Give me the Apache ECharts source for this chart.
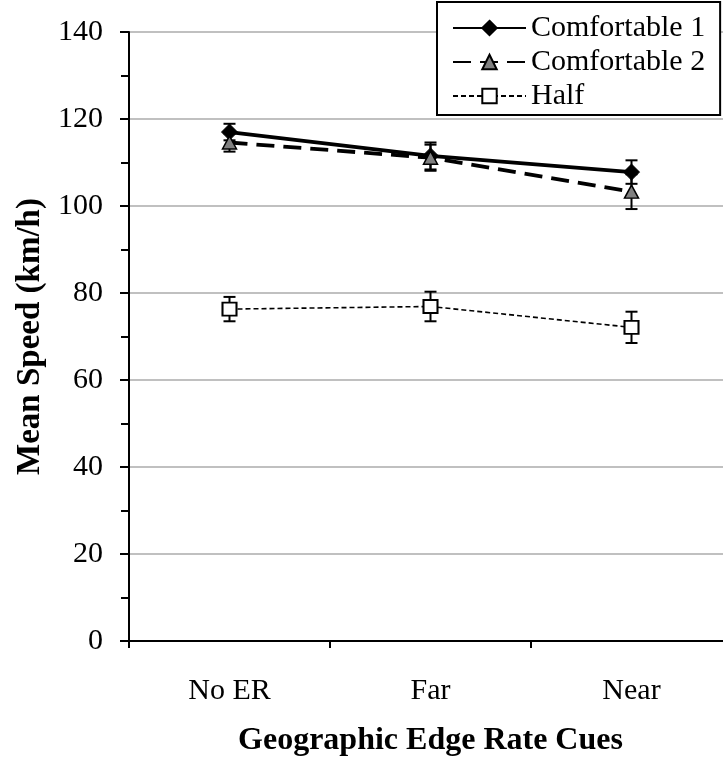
<!DOCTYPE html>
<html>
<head>
<meta charset="utf-8">
<script src="https://cdn.jsdelivr.net/npm/echarts@6/dist/echarts.min.js"></script>
<style>
  html, body { margin: 0; padding: 0; background: #fff; }
  #chart { width: 723px; height: 757px; }
</style>
</head>
<body>
<div id="chart"></div>
<script>
// Edge-rate cue conditions on the x axis
const categories = ['No ER', 'Far', 'Near'];

// Mean speed (km/h) and error-bar half widths per condition
const comfortable1 = [117.0, 111.5, 107.8];
const comfortable1Err = [1.9, 3.1, 2.7];
const comfortable2 = [114.6, 111.1, 103.3];
const comfortable2Err = [2.1, 3.0, 4.0];
const half = [76.3, 76.9, 72.1];
const halfErr = [2.8, 3.4, 3.6];

const yTicks = [0, 20, 40, 60, 80, 100, 120, 140];

const SERIF = '"Liberation Serif", "DejaVu Serif", serif';

function errorData(values, errs) {
  return values.map((v, i) => [i, v - errs[i], v + errs[i]]);
}

function renderErrorBar(params, api) {
  const idx = api.value(0);
  const lo = api.coord([idx, api.value(1)]);
  const hi = api.coord([idx, api.value(2)]);
  const half = 6;
  const style = { stroke: '#000', lineWidth: 2, fill: null };
  return {
    type: 'group',
    children: [
      { type: 'line', shape: { x1: lo[0], y1: lo[1], x2: hi[0], y2: hi[1] }, style },
      { type: 'line', shape: { x1: lo[0] - half, y1: lo[1], x2: lo[0] + half, y2: lo[1] }, style },
      { type: 'line', shape: { x1: hi[0] - half, y1: hi[1], x2: hi[0] + half, y2: hi[1] }, style }
    ]
  };
}

function errorSeries(name, values, errs) {
  return {
    name: name + ' error',
    type: 'custom',
    z: 1,
    silent: true,
    renderItem: renderErrorBar,
    encode: { x: 0, y: [1, 2] },
    data: errorData(values, errs)
  };
}

const chart = echarts.init(document.getElementById('chart'), null, { renderer: 'canvas' });

chart.setOption({
  animation: false,
  backgroundColor: '#fff',
  textStyle: { fontFamily: SERIF, color: '#000' },
  grid: { left: 129, top: 32, bottom: 116, width: 603, containLabel: false, outerBoundsMode: 'none' },
  legend: {
    left: 437,
    top: 2,
    orient: 'vertical',
    backgroundColor: '#fff',
    borderColor: '#000',
    borderWidth: 2,
    borderRadius: 0,
    padding: [11, 15, 4, 15],
    itemWidth: 73,
    itemHeight: 18,
    itemGap: 4,
    textStyle: { fontFamily: SERIF, fontSize: 30, color: '#000' },
    data: ['Comfortable 1', 'Comfortable 2', 'Half']
  },
  xAxis: {
    type: 'category',
    data: categories,
    boundaryGap: true,
    axisLine: { lineStyle: { color: '#000', width: 2 } },
    axisTick: { show: true, length: 7, lineStyle: { color: '#000', width: 2 } },
    axisLabel: { fontFamily: SERIF, fontSize: 30, color: '#000', margin: 35 },
    name: 'Geographic Edge Rate Cues',
    nameLocation: 'middle',
    nameGap: 84,
    nameTextStyle: { fontFamily: SERIF, fontSize: 32, fontWeight: 'bold', color: '#000' },
    splitLine: { show: false }
  },
  yAxis: {
    type: 'value',
    min: 0,
    max: 140,
    interval: 20,
    axisLine: { show: true, lineStyle: { color: '#000', width: 2 } },
    axisTick: { show: true, length: 9, lineStyle: { color: '#000', width: 2 } },
    minorTick: { show: true, splitNumber: 2, length: 8, lineStyle: { color: '#000', width: 2 } },
    axisLabel: {
      fontFamily: SERIF, fontSize: 30, color: '#000', margin: 26,
      formatter: v => (yTicks.indexOf(v) >= 0 ? String(v) : '')
    },
    splitLine: { show: true, lineStyle: { color: '#c0c0c0', width: 2 } },
    name: 'Mean Speed (km/h)',
    nameLocation: 'middle',
    nameGap: 80,
    nameTextStyle: { fontFamily: SERIF, fontSize: 33, fontWeight: 'bold', color: '#000' }
  },
  series: [
    errorSeries('Half', half, halfErr),
    errorSeries('Comfortable 2', comfortable2, comfortable2Err),
    errorSeries('Comfortable 1', comfortable1, comfortable1Err),
    {
      name: 'Half',
      type: 'line',
      z: 3,
      data: half,
      symbol: 'rect',
      symbolSize: [14, 13],
      lineStyle: { color: '#000', width: 1.6, type: [5, 3] },
      itemStyle: { color: '#fff', borderColor: '#000', borderWidth: 2 }
    },
    {
      name: 'Comfortable 1',
      type: 'line',
      z: 4,
      data: comfortable1,
      symbol: 'diamond',
      symbolSize: [16, 16],
      lineStyle: { color: '#000', width: 3.8, type: 'solid' },
      itemStyle: { color: '#000', borderColor: '#000', borderWidth: 1 }
    },
    {
      name: 'Comfortable 2',
      type: 'line',
      z: 5,
      data: comfortable2,
      symbol: 'triangle',
      symbolSize: [14, 13],
      lineStyle: { color: '#000', width: 3.8, type: [18, 9] },
      itemStyle: { color: '#808080', borderColor: '#000', borderWidth: 1.5 }
    }
  ]
});
</script>
</body>
</html>
